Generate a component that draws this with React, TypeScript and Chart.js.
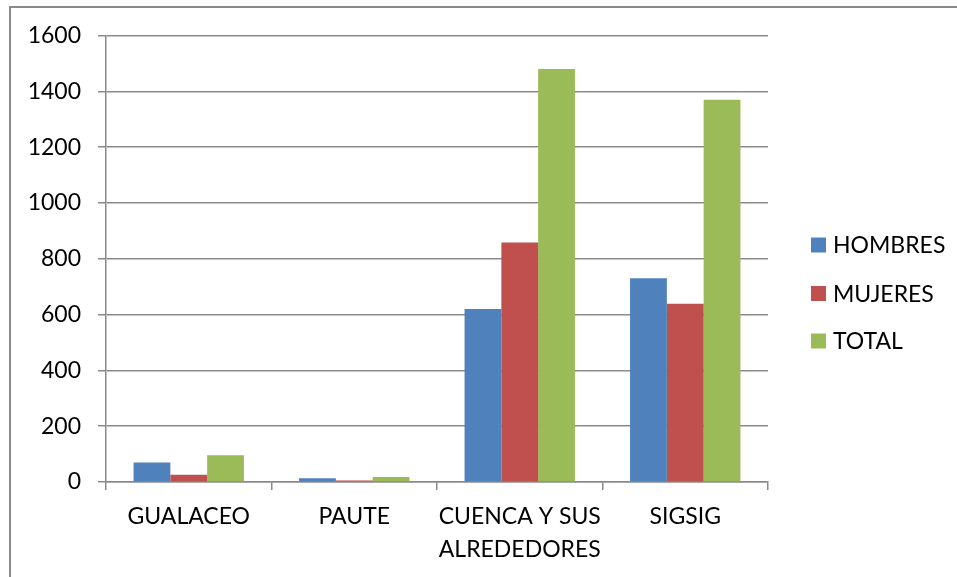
import React, { useEffect, useRef } from "react";
import { Chart, registerables } from "chart.js";

Chart.register(...registerables);

const categories: (string | string[])[] = ["GUALACEO", "PAUTE", ["CUENCA Y SUS", "ALREDEDORES"], "SIGSIG"];
const hombres = [70, 13, 620, 730];
const mujeres = [26, 5, 858, 639];
const total = [96, 18, 1480, 1370];
const seriesNames = ["HOMBRES", "MUJERES", "TOTAL"];
const seriesColors = ["#4F81BD", "#C0504D", "#9BBB59"];

const FONT = "Lato, 'Open Sans', sans-serif";
const FONT_SIZE = 23;
const GRID = "#8a8a8a";

const framePlugin = {
  id: "frame",
  beforeDraw(chart: any) {
    const ctx = chart.ctx;
    ctx.save();
    ctx.fillStyle = "#ffffff";
    ctx.fillRect(0, 0, chart.width, chart.height);
    ctx.strokeStyle = GRID;
    ctx.lineWidth = 2;
    ctx.beginPath();
    ctx.moveTo(10, chart.height + 5);
    ctx.lineTo(10, 7);
    ctx.lineTo(chart.width + 5, 7);
    ctx.stroke();
    ctx.restore();
  },
};

const legendPlugin = {
  id: "customLegend",
  afterDraw(chart: any) {
    const ctx = chart.ctx;
    ctx.save();
    ctx.font = `${FONT_SIZE}px ${FONT}`;
    ctx.textBaseline = "middle";
    ctx.textAlign = "left";
    const ys = [245, 293.5, 341];
    chart.data.datasets.forEach((ds: any, i: number) => {
      const y = ys[i];
      ctx.fillStyle = ds.backgroundColor;
      ctx.fillRect(811, y - 7.5, 15, 15);
      ctx.fillStyle = "#000000";
      ctx.fillText(ds.label, 833, y + 1);
    });
    ctx.restore();
  },
};

export default function App() {
  const ref = useRef<HTMLCanvasElement | null>(null);
  useEffect(() => {
    if (!ref.current) return;
    const chart = new Chart(ref.current, {
      type: "bar",
      data: {
        labels: categories,
        datasets: [hombres, mujeres, total].map((d, i) => ({
          label: seriesNames[i],
          data: d,
          backgroundColor: seriesColors[i],
          borderWidth: 0,
          barPercentage: 1,
          categoryPercentage: 0.667,
        })),
      },
      options: {
        animation: false,
        responsive: false,
        maintainAspectRatio: false,
        layout: { padding: { top: 35.5, right: 189, bottom: 0, left: 0 } },
        plugins: {
          legend: { display: false },
          tooltip: { enabled: false },
        },
        scales: {
          x: {
            grid: {
              offset: true,
              drawOnChartArea: false,
              drawTicks: true,
              tickLength: 8,
              color: GRID,
              lineWidth: 1.5,
            },
            border: { display: true, color: GRID, width: 1.5 },
            ticks: {
              color: "#000000",
              font: { family: FONT, size: FONT_SIZE, lineHeight: 1.45 },
              padding: 10,
              maxRotation: 0,
              autoSkip: false,
            },
            afterFit(scale: any) {
              scale.height = 95;
            },
          },
          y: {
            min: 0,
            max: 1600,
            ticks: {
              stepSize: 200,
              color: "#000000",
              font: { family: FONT, size: FONT_SIZE },
              padding: 17,
              callback: (v: any) => String(v),
            },
            grid: {
              color: GRID,
              lineWidth: 1.5,
              drawTicks: true,
              tickLength: 8,
            },
            border: { display: true, color: GRID, width: 1.5 },
            afterFit(scale: any) {
              scale.width = 106;
            },
          },
        },
      },
      plugins: [framePlugin, legendPlugin],
    });
    return () => chart.destroy();
  }, []);
  return (
    <div style={{ position: "fixed", left: 0, top: 0, width: 957, height: 577 }}>
      <canvas ref={ref} width={957} height={577} style={{ width: 957, height: 577, display: "block" }} />
    </div>
  );
}
